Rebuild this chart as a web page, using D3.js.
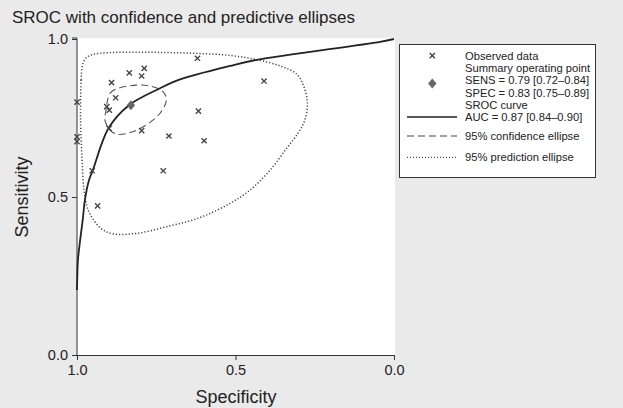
<!DOCTYPE html>
<html>
<head>
<meta charset="utf-8">
<script src="https://cdn.jsdelivr.net/npm/d3@7"></script>
<style>
  body { margin: 0; background: #eaeaea; }
  svg text { font-family: "Liberation Sans", Arial, sans-serif; fill: #222; }
</style>
</head>
<body>
<svg id="chart" width="623" height="408"></svg>
<script>
// observed studies: [specificity, sensitivity]
const observed = [
  [0.620, 0.939], [0.788, 0.907], [0.835, 0.893], [0.796, 0.883],
  [0.891, 0.862], [0.878, 0.814], [1.000, 0.800], [0.906, 0.786],
  [0.898, 0.775], [0.617, 0.772], [0.899, 0.717], [0.796, 0.710],
  [0.710, 0.693], [0.599, 0.678], [1.000, 0.690], [1.000, 0.675],
  [0.952, 0.583], [0.728, 0.583], [0.935, 0.472], [0.410, 0.867]
];
const summaryPoint = [0.83, 0.79];

// SROC curve
const srocCurve = [
  [1.000, 0.206], [0.999, 0.248], [0.997, 0.301], [0.990, 0.364],
  [0.982, 0.427], [0.975, 0.491], [0.962, 0.554], [0.950, 0.585],
  [0.901, 0.717], [0.838, 0.789], [0.738, 0.844], [0.675, 0.872],
  [0.517, 0.915], [0.433, 0.934], [0.044, 0.991], [0.000, 1.000]
];

const confEllipse = [
  [0.909, 0.770], [0.896, 0.828], [0.870, 0.844], [0.812, 0.854],
  [0.770, 0.851], [0.728, 0.833], [0.718, 0.807], [0.738, 0.765],
  [0.791, 0.722], [0.843, 0.701], [0.875, 0.699], [0.896, 0.712],
  [0.912, 0.744]
];

const predEllipse = [
  [0.989, 0.775], [0.987, 0.870], [0.983, 0.915], [0.972, 0.940],
  [0.950, 0.951], [0.896, 0.957], [0.801, 0.958], [0.707, 0.957],
  [0.612, 0.954], [0.517, 0.948], [0.435, 0.935], [0.360, 0.915],
  [0.307, 0.889], [0.284, 0.848], [0.273, 0.797], [0.281, 0.744],
  [0.302, 0.703], [0.338, 0.655], [0.391, 0.585], [0.454, 0.522],
  [0.517, 0.480], [0.612, 0.435], [0.717, 0.406], [0.812, 0.385],
  [0.885, 0.383], [0.918, 0.396], [0.943, 0.421], [0.965, 0.459],
  [0.978, 0.522], [0.984, 0.617], [0.988, 0.712]
];

const tickValues = [0, 0.5, 1];
const legendLines = [
  'Observed data', 'Summary operating point', 'SENS = 0.79 [0.72\u20130.84]',
  'SPEC = 0.83 [0.75\u20130.89]', 'SROC curve', 'AUC = 0.87 [0.84\u20130.90]',
  '95% confidence ellipse', '95% prediction ellipse'
];

const svg = d3.select('#chart');
const plot = { left: 77, right: 395, top: 38, bottom: 355 };

const x = d3.scaleLinear().domain([1, 0]).range([77, 394]);
const y = d3.scaleLinear().domain([0, 1]).range([355, 39]);

// white plot region
svg.append('rect')
  .attr('x', plot.left).attr('y', plot.top)
  .attr('width', plot.right - plot.left).attr('height', plot.bottom - plot.top)
  .attr('fill', '#fff');

// title
svg.append('text')
  .attr('x', 12).attr('y', 23)
  .attr('font-size', 17)
  .text('SROC with confidence and predictive ellipses');

const fmt = d3.format('.1f');

const xAxis = svg.append('g')
  .attr('transform', `translate(0,${plot.bottom})`)
  .call(d3.axisBottom(x).tickValues(tickValues).tickFormat(fmt).tickSize(5).tickPadding(5));
const yAxis = svg.append('g')
  .attr('transform', `translate(${plot.left},0)`)
  .call(d3.axisLeft(y).tickValues(tickValues).tickFormat(fmt).tickSize(5).tickPadding(4));

[xAxis, yAxis].forEach(a => {
  a.select('.domain').attr('stroke', '#333');
  a.selectAll('.tick line').attr('stroke', '#333');
  a.selectAll('.tick text')
    .attr('font-family', '"Liberation Sans", Arial, sans-serif')
    .attr('font-size', 14.5).attr('fill', '#222');
});
yAxis.select('.domain').attr('d', `M-5,${plot.top}H0V${plot.bottom}`);

svg.append('text')
  .attr('x', 236).attr('y', 403)
  .attr('text-anchor', 'middle').attr('font-size', 18)
  .text('Specificity');
svg.append('text')
  .attr('transform', 'translate(28,197) rotate(-90)')
  .attr('text-anchor', 'middle').attr('font-size', 18)
  .text('Sensitivity');

const line = d3.line().x(d => x(d[0])).y(d => y(d[1]));

// prediction ellipse (dotted)
svg.append('path')
  .attr('d', line.curve(d3.curveCatmullRomClosed)(predEllipse))
  .attr('fill', 'none').attr('stroke', '#444')
  .attr('stroke-width', 1.5).attr('stroke-dasharray', '1.2,2');

// confidence ellipse (dashed)
svg.append('path')
  .attr('d', line.curve(d3.curveCatmullRomClosed)(confEllipse))
  .attr('fill', 'none').attr('stroke', '#555')
  .attr('stroke-width', 1.1).attr('stroke-dasharray', '7,4');

// SROC curve
svg.append('path')
  .attr('d', line.curve(d3.curveCatmullRom)(srocCurve))
  .attr('fill', 'none').attr('stroke', '#222').attr('stroke-width', 1.8);

// observed points
const cross = 'M-2.6,-2.6L2.6,2.6M-2.6,2.6L2.6,-2.6';
svg.append('g')
  .selectAll('path')
  .data(observed)
  .join('path')
  .attr('transform', d => `translate(${x(d[0])},${y(d[1])})`)
  .attr('d', cross)
  .attr('stroke', '#444').attr('stroke-width', 1.4);

const diamond = 'M0,-5L4.2,0L0,5L-4.2,0Z';
svg.append('path')
  .attr('transform', `translate(${x(summaryPoint[0])},${y(summaryPoint[1])})`)
  .attr('d', diamond).attr('fill', '#666');

// legend
const lg = svg.append('g');
lg.append('rect')
  .attr('x', 399.5).attr('y', 44.5).attr('width', 196).attr('height', 133)
  .attr('fill', '#fff').attr('stroke', '#333');

const lineY = [55.7, 68.3, 80.5, 93.3, 105, 117, 136, 157.3];
lg.selectAll('text.item')
  .data(legendLines)
  .join('text')
  .attr('class', 'item')
  .attr('x', 465).attr('y', (d, i) => lineY[i])
  .attr('dy', '0.35em').attr('font-size', 11.2)
  .text(d => d);

lg.append('path')
  .attr('transform', 'translate(432.3,55.7)')
  .attr('d', cross).attr('stroke', '#444').attr('stroke-width', 1.4);
lg.append('path')
  .attr('transform', 'translate(432.3,83.5)')
  .attr('d', diamond).attr('fill', '#666');
lg.append('line')
  .attr('x1', 407).attr('x2', 457).attr('y1', 117).attr('y2', 117)
  .attr('stroke', '#222').attr('stroke-width', 1.4);
lg.append('line')
  .attr('x1', 407).attr('x2', 457).attr('y1', 136).attr('y2', 136)
  .attr('stroke', '#444').attr('stroke-width', 1.2).attr('stroke-dasharray', '7,4');
lg.append('line')
  .attr('x1', 407).attr('x2', 457).attr('y1', 157.3).attr('y2', 157.3)
  .attr('stroke', '#555').attr('stroke-width', 1.2).attr('stroke-dasharray', '1,2');
</script>
</body>
</html>
